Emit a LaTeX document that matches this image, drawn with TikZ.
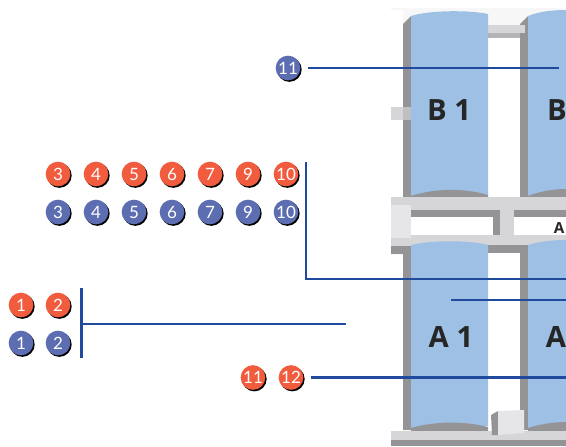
\documentclass[tikz,border=0pt]{standalone}
\usepackage{fontspec}
\usetikzlibrary{shadows}
\setmainfont{Lato}
\newfontfamily\bayfont{Open Sans}
\definecolor{badgered}{HTML}{F15B3E}
\definecolor{badgeblue}{HTML}{5D6DB1}
\definecolor{wire}{HTML}{1F4A9E}
\definecolor{bayblue}{HTML}{9EC0E4}
\definecolor{post}{HTML}{949497}
\definecolor{deck}{HTML}{D6D6D8}
\definecolor{block}{HTML}{E6E6E8}
\tikzset{
  badge/.style={circle,inner sep=0pt,minimum size=0.74cm,text=white,font=\fontsize{14.5}{15}\selectfont,
    drop shadow={shadow xshift=0.04cm,shadow yshift=-0.045cm,opacity=1,fill=black}},
  rd/.style={badge,fill=badgered},
  bl/.style={badge,fill=badgeblue},
  wireline/.style={wire,line width=2.1pt},
  baylabel/.style={text=black!85,font=\bayfont\bfseries\fontsize{25}{25}\selectfont},
}
\begin{document}
\begin{tikzpicture}[x=0.03cm,y=-0.03cm]
\path[use as bounding box,clip] (0,0) rectangle (566,446);
\fill[white] (0,0) rectangle (566,446);
\fill[black!3] (391,8) rectangle (566,446);
\fill[white] (488,38) rectangle (520,197);
\fill[white] (391,10) rectangle (403,107);
\fill[white] (391,120) rectangle (403,197);
\fill[white] (391,255) rectangle (403,431);
\fill[white] (488,253) rectangle (520,431);
% upper row
\fill[post] (403,24) -- (411,16) -- (411,197) -- (403,197) -- cycle;
\fill[post] (520,24) -- (528,16) -- (528,197) -- (520,197) -- cycle;
\fill[deck] (488,25) rectangle (525,33);
\fill[post!70] (488,33) rectangle (520,38);
\fill[deck] (391,107) rectangle (403,120);
\fill[post!60] (403,107) rectangle (411,120);
\fill[bayblue] (411,16) .. controls (430,10) and (470,10) .. (488,14) -- (488,195) -- (411,196) -- cycle;
\fill[bayblue] (528,16) .. controls (540,11) and (555,10) .. (566,10) -- (566,195) -- (528,196) -- cycle;
\fill[post] (411,196) .. controls (435,188) and (465,188) .. (488,195) -- (488,197) -- (411,197) -- cycle;
\fill[post] (528,196) .. controls (540,191) and (555,189) .. (566,189) -- (566,197) -- (528,197) -- cycle;
% middle deck
\fill[deck] (391,197) rectangle (566,246);
\fill[block] (391,205) rectangle (411,238);
\fill[white] (411,217) rectangle (493,235);
\fill[white] (514,217) rectangle (566,235);
\fill[post] (411,210) rectangle (500,217);
\fill[post] (493,217) rectangle (500,235);
\fill[post] (514,210) rectangle (566,217);
% lower row
\fill[post] (391,246) rectangle (411,254);
\fill[post] (488,245) rectangle (528,253);
\fill[post] (403,254) rectangle (411,430);
\fill[post] (520,253) rectangle (528,430);
\fill[bayblue] (411,245) .. controls (430,240) and (470,240) .. (488,245) -- (488,426) -- (411,428) -- cycle;
\fill[bayblue] (528,245) .. controls (540,241) and (555,240) .. (566,240) -- (566,426) -- (528,428) -- cycle;
\fill[post] (411,428) .. controls (435,421) and (465,421) .. (488,427) -- (488,431) -- (411,431) -- cycle;
\fill[post] (528,428) .. controls (540,424) and (555,422) .. (566,422) -- (566,431) -- (528,431) -- cycle;
% floor
\fill[deck] (391,431) rectangle (566,440);
\fill[post] (391,440) rectangle (566,446);
\fill[post] (491,415) -- (498,411) -- (498,435) -- (492,435) -- cycle;
\fill[block] (498,411) -- (524,410) -- (524,433) -- (498,435) -- cycle;
% bay labels
\node[baylabel] (B1) at (449,110) {B 1};
\node[baylabel] (B2) at (557,110) {B};
\node[baylabel] (A1) at (451,337) {A 1};
\node[baylabel] (A2) at (556,337) {A};
\node[text=black!85,font=\bayfont\bfseries\fontsize{13}{13}\selectfont] (A3) at (559,228) {A};
% free ends
\coordinate (e11) at (559,68);
\coordinate (up) at (306,162);
\coordinate (corner) at (306,279);
\coordinate (e279) at (566,279);
\coordinate (s300) at (451,300);
\coordinate (e300) at (566,300);
\coordinate (brtop) at (81.5,288);
\coordinate (brbot) at (81.5,358);
\coordinate (brmid) at (81.5,324);
\coordinate (e324) at (346,324);
\coordinate (e378) at (566,377.5);
% badges
\node[bl] (t11) at (288,68) {11};
\node[rd] (r3) at (58,174) {3};
\node[rd] (r4) at (96,174) {4};
\node[rd] (r5) at (134,174) {5};
\node[rd] (r6) at (172,174) {6};
\node[rd] (r7) at (210,174) {7};
\node[rd] (r9) at (248,174) {9};
\node[rd] (r10) at (286,174) {10};
\node[bl] (b3) at (58,212) {3};
\node[bl] (b4) at (96,212) {4};
\node[bl] (b5) at (134,212) {5};
\node[bl] (b6) at (172,212) {6};
\node[bl] (b7) at (210,212) {7};
\node[bl] (b9) at (248,212) {9};
\node[bl] (b10) at (286,212) {10};
\node[rd] (r1) at (21,305) {1};
\node[rd] (r2) at (58,305) {2};
\node[bl] (b1) at (21,343) {1};
\node[bl] (b2) at (58,343) {2};
\node[rd] (r11) at (253,377.5) {11};
\node[rd] (r12) at (291,377.5) {12};
% leader lines
\draw[wireline,shorten <=6pt] (t11) -- (e11);
\draw[wireline] (up) -- (corner) -- (e279);
\draw[wireline] (s300) -- (e300);
\draw[wireline] (brtop) -- (brbot);
\draw[wireline] (brmid) -- (e324);
\draw[wireline,shorten <=6pt] (r12) -- (e378);
\end{tikzpicture}
\end{document}
